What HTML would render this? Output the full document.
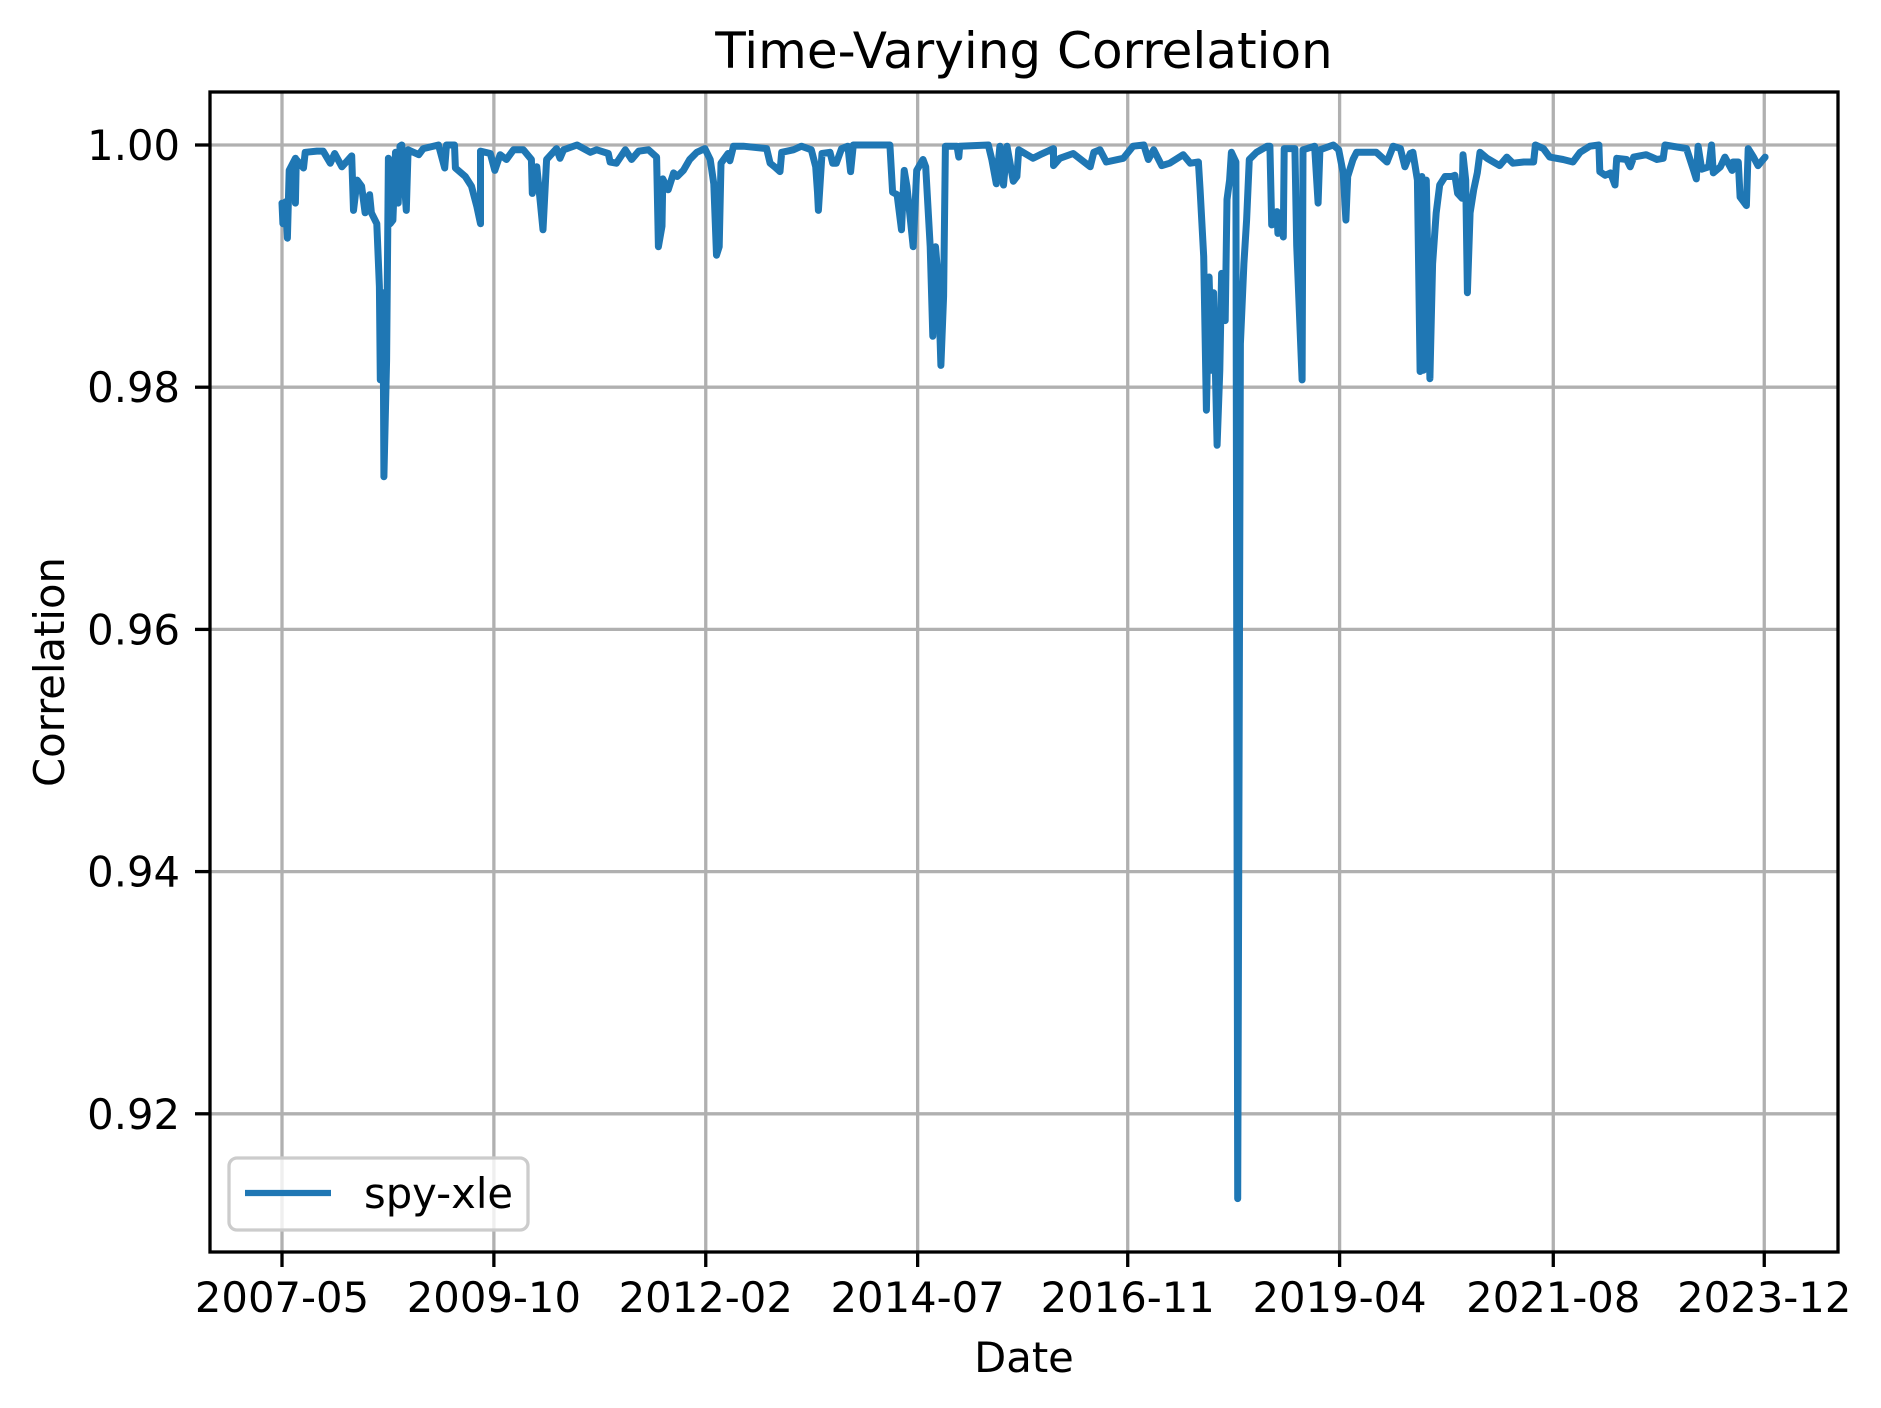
<!DOCTYPE html>
<html><head><meta charset="utf-8"><style>
html,body{margin:0;padding:0;background:#fff;}
svg{display:block;font-family:"DejaVu Sans","Liberation Sans",sans-serif;}
</style></head><body>
<svg id="chart" width="1881" height="1408" viewBox="0 0 1881 1408" xmlns="http://www.w3.org/2000/svg">
<rect width="1881" height="1408" fill="#fff"/>
<defs><clipPath id="plotclip"><rect x="210" y="92" width="1628" height="1160"/></clipPath></defs>
<g id="grid"></g>
<g id="series" clip-path="url(#plotclip)"></g>
<rect x="210" y="92" width="1628" height="1160" fill="none" stroke="#000" stroke-width="3.3"/>
<g id="axes"></g>
<text x="1024" y="68" font-size="50" text-anchor="middle" fill="#000">Time-Varying Correlation</text>
<text x="1024" y="1372" font-size="41.7" text-anchor="middle" fill="#000">Date</text>
<text x="0" y="0" font-size="41.7" text-anchor="middle" fill="#000" transform="translate(64,672) rotate(-90)">Correlation</text>
<g>
<rect x="229" y="1158" width="299" height="72" rx="8" fill="#fff" fill-opacity="0.8" stroke="#ccc" stroke-width="3.3"/>
<line x1="245" y1="1193" x2="331" y2="1193" stroke="#1f77b4" stroke-width="6.25"/>
<text x="364" y="1208" font-size="41.7" fill="#000">spy-xle</text>
</g>
</svg>
<script>
const dates = [2007.33,2007.34,2007.37,2007.39,2007.41,2007.48,2007.48,2007.49,2007.57,2007.59,2007.72,2007.79,2007.87,2007.92,2008.00,2008.11,2008.13,2008.17,2008.22,2008.26,2008.31,2008.33,2008.39,2008.42,2008.43,2008.46,2008.47,2008.50,2008.52,2008.54,2008.57,2008.60,2008.63,2008.65,2008.67,2008.72,2008.74,2008.86,2008.91,2009.08,2009.15,2009.17,2009.26,2009.27,2009.38,2009.45,2009.51,2009.55,2009.55,2009.66,2009.71,2009.77,2009.84,2009.92,2010.03,2010.12,2010.13,2010.18,2010.22,2010.25,2010.29,2010.40,2010.44,2010.48,2010.63,2010.78,2010.85,2010.98,2011.00,2011.07,2011.17,2011.24,2011.32,2011.43,2011.52,2011.54,2011.58,2011.59,2011.65,2011.71,2011.75,
2011.82,2011.89,2011.97,2012.06,2012.12,2012.16,2012.19,2012.22,2012.24,2012.32,2012.34,2012.38,2012.49,2012.75,2012.79,2012.84,2012.90,2012.92,2013.05,2013.14,2013.25,2013.30,2013.32,2013.33,2013.37,2013.46,2013.49,2013.53,2013.59,2013.66,2013.69,2013.72,2014.13,2014.16,2014.21,2014.26,2014.29,2014.32,2014.39,2014.43,2014.50,2014.53,2014.58,2014.61,2014.64,2014.67,2014.70,2014.73,2014.75,2014.88,2014.90,2014.91,2015.23,2015.27,
2015.32,2015.36,2015.40,2015.44,2015.51,2015.55,2015.57,2015.73,2015.81,2015.96,2015.96,2016.03,2016.18,2016.37,2016.41,2016.48,2016.55,2016.74,2016.85,2016.97,2017.02,2017.08,2017.17,2017.26,2017.41,2017.49,2017.58,2017.60,2017.64,2017.67,2017.70,2017.73,2017.75,2017.79,2017.82,2017.84,2017.88,2017.90,2017.93,2017.95,2018.00,2018.02,2018.05,2018.09,2018.12,2018.15,2018.23,2018.35,2018.38,2018.40,2018.46,2018.47,2018.51,2018.53,2018.54,2018.66,2018.68,2018.74,2018.75,2018.88,2018.92,2018.94,2019.09,2019.15,2019.20,2019.23,2019.25,2019.31,2019.35,2019.57,
2019.69,2019.76,2019.84,2019.89,2019.95,2019.98,2020.03,2020.06,2020.08,2020.10,2020.13,2020.17,2020.20,2020.24,2020.28,2020.34,2020.41,2020.45,2020.48,2020.53,2020.54,2020.57,2020.59,2020.62,2020.66,2020.70,2020.73,2020.81,2020.95,2021.03,2021.10,2021.22,2021.33,2021.35,2021.44,2021.51,2021.66,2021.77,2021.85,2021.96,2022.06,2022.07,2022.13,2022.19,2022.24,2022.26,2022.37,2022.41,2022.45,2022.59,2022.71,2022.78,2022.80,2023.04,2023.12,2023.15,2023.17,2023.21,2023.29,2023.32,2023.34,2023.42,2023.47,2023.55,2023.56,2023.62,2023.64,2023.71,2023.73,2023.79,2023.84,2023.92];
const values = [0.9952,0.9935,0.9953,0.9923,0.9979,0.9989,0.9952,0.9988,0.9981,0.9994,0.9995,0.9995,0.9985,0.9993,0.9982,0.9991,0.9946,0.9971,0.9966,0.9944,0.9959,0.9944,0.9935,0.9883,0.9806,0.9878,0.9726,0.9822,0.9989,0.9935,0.9938,0.9994,0.9952,0.9999,1.0000,0.9946,0.9996,0.9992,0.9997,1.0000,0.9981,1.0000,1.0000,0.9981,0.9974,0.9966,0.9949,0.9935,0.9995,0.9993,0.9979,0.9992,0.9988,0.9996,0.9996,0.9988,0.9960,0.9982,0.9952,0.9930,0.9988,0.9997,0.9989,0.9996,1.0000,0.9994,0.9996,0.9993,0.9986,0.9985,0.9996,0.9988,0.9995,0.9996,0.9990,0.9916,0.9933,0.9972,0.9963,0.9977,0.9974,
0.9979,0.9988,0.9994,0.9997,0.9988,0.9968,0.9909,0.9916,0.9985,0.9993,0.9987,0.9999,0.9999,0.9997,0.9985,0.9982,0.9978,0.9994,0.9996,0.9999,0.9996,0.9982,0.9961,0.9946,0.9993,0.9994,0.9985,0.9985,0.9997,0.9999,0.9978,1.0000,1.0000,0.9961,0.9959,0.9930,0.9979,0.9966,0.9916,0.9979,0.9988,0.9982,0.9916,0.9842,0.9916,0.9889,0.9818,0.9875,0.9999,0.9999,0.9990,0.9999,1.0000,0.9988,
0.9968,0.9999,0.9967,0.9999,0.9970,0.9974,0.9996,0.9989,0.9992,0.9997,0.9983,0.9989,0.9993,0.9982,0.9994,0.9996,0.9986,0.9989,0.9999,1.0000,0.9988,0.9996,0.9983,0.9985,0.9992,0.9985,0.9986,0.9963,0.9908,0.9781,0.9891,0.9814,0.9878,0.9752,0.9814,0.9894,0.9855,0.9955,0.9971,0.9994,0.9986,0.9130,0.9836,0.9902,0.9938,0.9988,0.9994,0.9999,0.9999,0.9934,0.9945,0.9927,0.9944,0.9924,0.9997,0.9997,0.9917,0.9806,0.9996,0.9999,0.9952,0.9996,1.0000,0.9996,0.9977,0.9938,0.9974,0.9988,0.9994,0.9994,
0.9986,0.9999,0.9997,0.9982,0.9993,0.9994,0.9971,0.9813,0.9974,0.9814,0.9971,0.9807,0.9902,0.9944,0.9967,0.9974,0.9974,0.9975,0.9960,0.9956,0.9992,0.9971,0.9878,0.9944,0.9963,0.9977,0.9994,0.9989,0.9983,0.9990,0.9985,0.9986,0.9986,1.0000,0.9997,0.9990,0.9988,0.9986,0.9994,0.9999,1.0000,0.9978,0.9975,0.9977,0.9967,0.9989,0.9988,0.9982,0.9990,0.9992,0.9988,0.9989,1.0000,0.9997,0.9979,0.9972,0.9999,0.9980,0.9982,1.0000,0.9977,0.9982,0.9990,0.9979,0.9986,0.9986,0.9957,0.9950,0.9997,0.9990,0.9983,0.9990];
const xTickDates = [2007.33,2009.70,2012.07,2014.44,2016.79,2019.16,2021.55,2023.91];
const xTickLabels = ["2007-05","2009-10","2012-02","2014-07","2016-11","2019-04","2021-08","2023-12"];
const yTickValues = [0.92,0.94,0.96,0.98,1.00];
const yTickLabels = ["0.92","0.94","0.96","0.98","1.00"];

const NS = "http://www.w3.org/2000/svg";
function xScale(yr){ return 252.5 + (yr - 2007) * 89.4; }
function yScale(v){ return 145 + (1 - v) * 12110; }
function mk(tag, attrs){ const e = document.createElementNS(NS, tag); for (const k in attrs) e.setAttribute(k, attrs[k]); return e; }

const grid = document.getElementById('grid');
const axes = document.getElementById('axes');
xTickDates.forEach((d, i) => {
  const x = xScale(d);
  const gl = mk('line', {x1:x, y1:92, x2:x, y2:1252, stroke:'#b0b0b0', 'stroke-width':3.3});
  
  
  grid.appendChild(gl);
  const tk = mk('line', {x1:x, y1:1252, x2:x, y2:1267, stroke:'#000', 'stroke-width':3.3});
  
  
  axes.appendChild(tk);
  const t = mk('text', {x:x, y:1312, 'font-size':41.7, 'text-anchor':'middle', fill:'#000'});
  t.textContent = xTickLabels[i];
  
  
  axes.appendChild(t);
});
yTickValues.forEach((v, i) => {
  const y = yScale(v);
  const gl = mk('line', {x1:210, y1:y, x2:1838, y2:y, stroke:'#b0b0b0', 'stroke-width':3.3});
  
  
  grid.appendChild(gl);
  const tk = mk('line', {x1:195, y1:y, x2:210, y2:y, stroke:'#000', 'stroke-width':3.3});
  
  
  axes.appendChild(tk);
  const t = mk('text', {x:180, y:y + 15, 'font-size':41.7, 'text-anchor':'end', fill:'#000'});
  t.textContent = yTickLabels[i];
  
  
  axes.appendChild(t);
});
let d = '';
dates.forEach((yr, i) => { d += (i ? 'L' : 'M') + xScale(yr).toFixed(1) + ',' + yScale(values[i]).toFixed(1); });
const path = mk('path', {d:d, fill:'none', stroke:'#1f77b4', 'stroke-width':7, 'stroke-linejoin':'round', 'stroke-linecap':'round'});


document.getElementById('series').appendChild(path);
</script>
</body></html>
